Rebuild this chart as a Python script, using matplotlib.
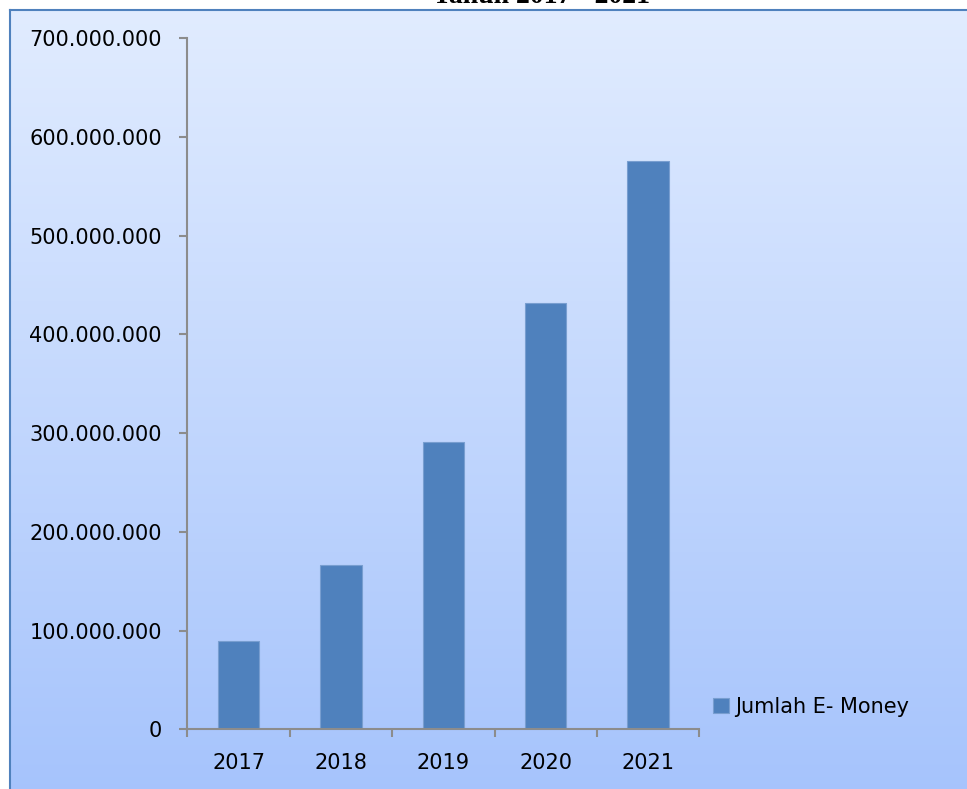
import matplotlib
matplotlib.use("Agg")
import matplotlib.pyplot as plt
import numpy as np
from matplotlib.lines import Line2D
from matplotlib.ticker import FuncFormatter

categories = ["2017", "2018", "2019", "2020", "2021"]
values = [89_500_000, 166_400_000, 291_300_000, 431_900_000, 575_400_000]
series_name = "Jumlah E- Money"
yticks = [0, 100_000_000, 200_000_000, 300_000_000, 400_000_000,
          500_000_000, 600_000_000, 700_000_000]
title = "Tahun 2017 - 2021"

W, H = 967, 789
fig = plt.figure(figsize=(W / 100, H / 100), dpi=100)
fig.patch.set_facecolor("white")

# background gradient panel
bg = fig.add_axes([0, 0, 1, 1], zorder=0)
top_c = np.array([225, 236, 255]) / 255
bot_c = np.array([165, 195, 252]) / 255
t = np.linspace(0, 1, 256)[:, None]
grad = (top_c[None, :] * (1 - t) + bot_c[None, :] * t)[:, None, :]
y_top = 1 - 9.5 / H
bg.imshow(grad, extent=[9.5 / W, 1.02, -0.02, y_top], aspect="auto", origin="upper",
          interpolation="bilinear")
bg.set_xlim(0, 1)
bg.set_ylim(0, 1)
bg.axis("off")
bg.add_line(Line2D([9.5 / W, 9.5 / W], [-0.02, y_top], color="#4f81bd", lw=1.5))
bg.add_line(Line2D([9.5 / W, 1.02], [y_top, y_top], color="#4f81bd", lw=1.5))

fig.text(0.56, 1 - 3 / H, title, ha="center", va="baseline",
         fontsize=20, fontweight="bold", family="Liberation Serif")

left, right = 187.3 / W, 699.3 / W
bottom, top = 1 - 729.3 / H, 1 - 38.3 / H
ax = fig.add_axes([left, bottom, right - left, top - bottom], zorder=1)
ax.patch.set_alpha(0)

x = np.arange(len(categories))
ax.bar(x, values, width=0.405, color="#4f81bd", edgecolor="#789ed0",
       linewidth=0.8, label=series_name, zorder=2)

ax.set_xlim(-0.5, len(categories) - 0.5)
ax.set_ylim(0, 700_000_000)
ax.set_yticks(yticks)
ax.yaxis.set_major_formatter(FuncFormatter(lambda v, p: f"{int(v):,}".replace(",", ".")))
ax.set_xticks(x)
ax.set_xticklabels(categories)
ax.set_xticks(np.arange(-0.5, len(categories), 1.0), minor=True)

for s in ["top", "right"]:
    ax.spines[s].set_visible(False)
for s in ["left", "bottom"]:
    ax.spines[s].set_color("#8c8c8c")
    ax.spines[s].set_linewidth(1.5)

ax.tick_params(axis="y", which="major", direction="out", length=5.8, width=1.5,
               color="#8c8c8c", pad=12.5, labelsize=15, labelcolor="black")
ax.tick_params(axis="x", which="major", length=0, pad=17, labelsize=15,
               labelcolor="black")
ax.tick_params(axis="x", which="minor", direction="out", length=5.8, width=1.5,
               color="#8c8c8c")

leg = ax.legend(loc="center left", bbox_to_anchor=(713 / W, 1 - 707 / H),
                bbox_transform=fig.transFigure, frameon=False, fontsize=15,
                handlelength=0.75, handleheight=0.75, handletextpad=0.3,
                borderpad=0, borderaxespad=0)

fig.savefig("out.png", dpi=100)
